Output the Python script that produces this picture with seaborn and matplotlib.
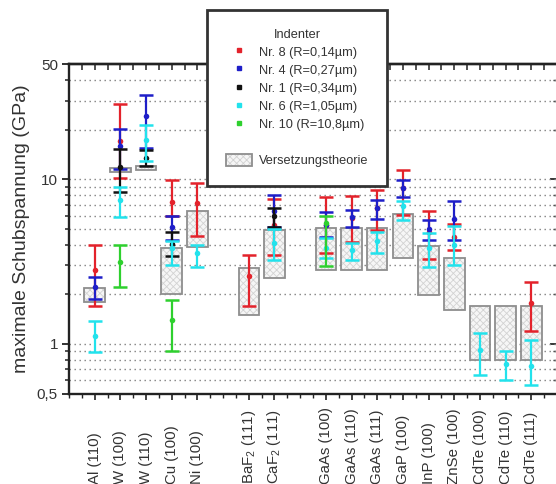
import numpy as np
import pandas as pd
import matplotlib
matplotlib.use("Agg")
import matplotlib.pyplot as plt
import seaborn as sns
from matplotlib.lines import Line2D
from matplotlib.patches import Patch
from matplotlib.legend_handler import HandlerTuple
from matplotlib.ticker import FixedLocator, NullFormatter

# ---------------- data ----------------
groups = [
    ["Al (110)", "W (100)", "W (110)", "Cu (100)", "Ni (100)"],
    ["BaF$_2$ (111)", "CaF$_2$ (111)"],
    ["GaAs (100)", "GaAs (110)", "GaAs (111)", "GaP (100)", "InP (100)",
     "ZnSe (100)", "CdTe (100)", "CdTe (110)", "CdTe (111)"],
]

# Nr. 8 (R=0,14 µm)
nr8_cats = ["Al (110)", "W (100)", "Cu (100)", "Ni (100)", "BaF$_2$ (111)", "CaF$_2$ (111)",
            "GaAs (100)", "GaAs (110)", "GaAs (111)", "GaP (100)", "InP (100)", "ZnSe (100)", "CdTe (111)"]
nr8_mid = [2.82, 17.1, 7.23, 7.17, 2.59, 5.29, 5.29, 5.83, 6.68, 8.88, 4.80, 4.47, 1.78]
nr8_lo = [1.69, 10.2, 5.94, 4.54, 1.69, 3.48, 3.56, 4.17, 4.93, 6.09, 3.27, 3.73, 1.20]
nr8_hi = [3.96, 28.4, 9.84, 9.48, 3.48, 7.58, 7.80, 7.94, 8.63, 11.4, 6.37, 5.36, 2.36]

# Nr. 4 (R=0,27 µm)
nr4_cats = ["Al (110)", "W (100)", "W (110)", "Cu (100)", "CaF$_2$ (111)", "GaAs (100)",
            "GaAs (110)", "GaAs (111)", "GaP (100)", "InP (100)", "ZnSe (100)"]
nr4_mid = [2.20, 16.0, 24.3, 5.12, 6.43, 5.29, 5.89, 6.68, 8.84, 4.97, 5.71]
nr4_lo = [1.87, 11.6, 15.4, 4.29, 5.14, 4.43, 5.14, 5.73, 7.75, 4.29, 4.29]
nr4_hi = [2.53, 20.2, 32.6, 5.94, 8.05, 6.28, 6.46, 7.43, 9.93, 5.67, 7.33]

# Nr. 1 (R=0,34 µm)
nr1_cats = ["W (100)", "W (110)", "Cu (100)", "CaF$_2$ (111)"]
nr1_mid = [11.8, 13.5, 4.05, 6.00]
nr1_lo = [8.3, 12.1, 3.43, 5.14]
nr1_hi = [15.3, 15.1, 4.75, 6.68]

# Nr. 6 (R=1,05 µm)
nr6_cats = ["Al (110)", "W (100)", "W (110)", "Cu (100)", "Ni (100)", "CaF$_2$ (111)",
            "GaAs (100)", "GaAs (110)", "GaAs (111)", "GaP (100)", "InP (100)", "ZnSe (100)",
            "CdTe (100)", "CdTe (110)", "CdTe (111)"]
nr6_mid = [1.12, 7.5, 17.4, 3.82, 3.56, 4.10, 3.83, 3.73, 4.19, 6.83, 3.83, 4.00, 0.92, 0.76, 0.73]
nr6_lo = [0.89, 5.9, 12.8, 3.02, 2.95, 3.21, 3.33, 3.21, 3.56, 5.67, 2.94, 3.02, 0.65, 0.60, 0.56]
nr6_hi = [1.38, 9.0, 21.4, 4.19, 4.00, 4.98, 4.41, 4.10, 4.75, 7.33, 4.71, 5.16, 1.17, 0.91, 1.05]

# Nr. 10 (R=10,8 µm)
nr10_cats = ["W (100)", "Cu (100)", "GaAs (100)"]
nr10_mid = [3.14, 1.39, 5.42]
nr10_lo = [2.23, 0.91, 2.98]
nr10_hi = [4.00, 1.85, 6.00]

# Versetzungstheorie (range)
theo_cats = ["Al (110)", "W (100)", "W (110)", "Cu (100)", "Ni (100)", "BaF$_2$ (111)", "CaF$_2$ (111)",
             "GaAs (100)", "GaAs (110)", "GaAs (111)", "GaP (100)", "InP (100)", "ZnSe (100)",
             "CdTe (100)", "CdTe (110)", "CdTe (111)"]
theo_lo = [1.79, 11.1, 11.3, 2.00, 3.90, 1.50, 2.51, 2.82, 2.82, 2.82, 3.32, 1.99, 1.60, 0.80, 0.80, 0.80]
theo_hi = [2.18, 11.7, 12.1, 3.82, 6.37, 2.88, 4.93, 5.05, 5.05, 5.05, 6.17, 3.94, 3.32, 1.69, 1.69, 1.69]

series_labels = ["Nr. 8 (R=0,14µm)", "Nr. 4 (R=0,27µm)", "Nr. 1 (R=0,34µm)",
                 "Nr. 6 (R=1,05µm)", "Nr. 10 (R=10,8µm)"]
series_colors = ["#e3222b", "#1e1ec8", "#111111", "#22e2ec", "#2ed02e"]

# ---------------- positions (groups separated by one empty slot) ----------------
pos = {}
x = 1
for g in groups:
    for c in g:
        pos[c] = x
        x += 1
    x += 1
all_cats = [c for g in groups for c in g]

# ---------------- figure ----------------
sns.set_theme(style="ticks")
plt.rcParams["font.family"] = ["Liberation Sans", "DejaVu Sans"]
plt.rcParams["mathtext.fontset"] = "custom"
plt.rcParams["mathtext.rm"] = "Liberation Sans"
plt.rcParams["hatch.linewidth"] = 0.6

W, H = 556, 484
fig = plt.figure(figsize=(W / 100, H / 100), dpi=100)
ax = fig.add_axes([69 / W, (H - 393.5) / H, 488 / W, 329.5 / H])

ax.set_yscale("log")
ax.set_ylim(0.5, 50)
ax.set_xlim(0, 19)

# theory boxes
tx = [pos[c] for c in theo_cats]
th = np.array(theo_hi) - np.array(theo_lo)
ax.bar(tx, th, bottom=theo_lo, width=0.8, color="#f6f6f6", edgecolor="#d2d2d2",
       linewidth=0, hatch="xxxxx", zorder=1)
ax.bar(tx, th, bottom=theo_lo, width=0.8, fill=False, edgecolor="#8e8e8e",
       linewidth=1.3, zorder=2)

# measured series
series = [
    (nr8_cats, nr8_mid, nr8_lo, nr8_hi),
    (nr4_cats, nr4_mid, nr4_lo, nr4_hi),
    (nr1_cats, nr1_mid, nr1_lo, nr1_hi),
    (nr6_cats, nr6_mid, nr6_lo, nr6_hi),
    (nr10_cats, nr10_mid, nr10_lo, nr10_hi),
]
for i, ((cats, mid, lo, hi), lab, col) in enumerate(zip(series, series_labels, series_colors)):
    df = pd.DataFrame({"x": [pos[c] for c in cats], "mid": mid, "lo": lo, "hi": hi})
    yerr = [df["mid"] - df["lo"], df["hi"] - df["mid"]]
    ax.errorbar(df["x"], df["mid"], yerr=yerr, fmt="none", ecolor=col,
                elinewidth=1.6, capsize=5, capthick=1.8, zorder=3 + 2 * i)
    sns.scatterplot(data=df, x="x", y="mid", ax=ax, color=col, marker="o", s=16,
                    linewidth=0, zorder=4 + 2 * i, legend=False)

# grid
minor_y = [0.6, 0.7, 0.8, 0.9, 2, 3, 4, 5, 6, 7, 8, 9, 20, 30, 40]
ax.yaxis.set_major_locator(FixedLocator([0.5, 1, 10, 50]))
ax.yaxis.set_minor_locator(FixedLocator(minor_y))
ax.yaxis.set_minor_formatter(NullFormatter())
ax.set_yticklabels(["0,5", "1", "10", "50"])
for v in minor_y + [1, 10]:
    ax.axhline(v, color="#808080", linestyle=(0, (1, 2.6)), linewidth=1.0, zorder=0.5)

ax.tick_params(axis="y", which="major", direction="out", length=5, width=1.3,
               labelsize=11, pad=3, colors="#222222", labelcolor="#333333")
ax.tick_params(axis="y", which="minor", direction="out", length=3, width=1.1, colors="#222222")

# x ticks: labels rotated, their lower end near the figure bottom
ax.xaxis.set_major_locator(FixedLocator([pos[c] for c in all_cats]))
ax.set_xticklabels(all_cats)
ax.xaxis.set_minor_locator(FixedLocator(np.arange(0, 19.01, 0.5)))
ax.tick_params(axis="x", which="major", direction="out", length=4, width=1.2,
               labelsize=10.8, colors="#222222", labelcolor="#333333",
               pad=(482 - 393.5 - 4) * 0.72)
ax.tick_params(axis="x", which="minor", direction="out", length=3, width=1.0, colors="#222222")
for t in ax.get_xticklabels():
    t.set_rotation(90)
    t.set_verticalalignment("bottom")
    t.set_horizontalalignment("center")

# top / right mirrored ticks (inward)
top = ax.secondary_xaxis("top")
top.xaxis.set_major_locator(FixedLocator(np.arange(0, 19.01, 0.5)))
top.tick_params(direction="in", length=4, width=1.1, labeltop=False, colors="#222222")
right = ax.secondary_yaxis("right")
right.yaxis.set_major_locator(FixedLocator([1, 10]))
right.yaxis.set_minor_locator(FixedLocator(minor_y))
right.tick_params(which="major", direction="in", length=5, width=1.3, labelright=False)
right.tick_params(which="minor", direction="in", length=3, width=1.0, labelright=False)

for s in ["left", "bottom", "top"]:
    ax.spines[s].set_linewidth(1.7)
    ax.spines[s].set_color("#222222")
top.spines["top"].set_linewidth(1.7)
top.spines["top"].set_color("#222222")

ax.set_xlabel("")
ax.set_ylabel("maximale Schubspannung (GPa)", fontsize=14, color="#333333", labelpad=5)

# legend
handles = [Line2D([], [], linestyle="none", marker="s", markersize=3.2,
                  markerfacecolor=c, markeredgecolor=c) for c in series_colors]
labels = list(series_labels)
handles.append(Line2D([], [], linestyle="none"))
labels.append(" ")
p_fill = Patch(facecolor="#f6f6f6", edgecolor="#d2d2d2", linewidth=0, hatch="xxxxx")
p_edge = Patch(fill=False, edgecolor="#8e8e8e", linewidth=1.3)
handles.append((p_fill, p_edge))
labels.append("Versetzungstheorie")
leg = fig.legend(handles, labels, title="Indenter", loc="upper left",
                 bbox_to_anchor=(207 / W, (H - 10) / H), borderaxespad=0,
                 fontsize=9.2, title_fontsize=9.2, frameon=True, fancybox=False,
                 edgecolor="#333333", framealpha=1, borderpad=1.45,
                 labelspacing=0.36, handlelength=2.1, handleheight=1.1,
                 handletextpad=0.55,
                 handler_map={tuple: HandlerTuple(ndivide=1, pad=0)})
leg.get_frame().set_linewidth(2.0)
for t in leg.get_texts():
    t.set_color("#333333")
leg.get_title().set_color("#333333")

fig.savefig("out.png", dpi=100)
